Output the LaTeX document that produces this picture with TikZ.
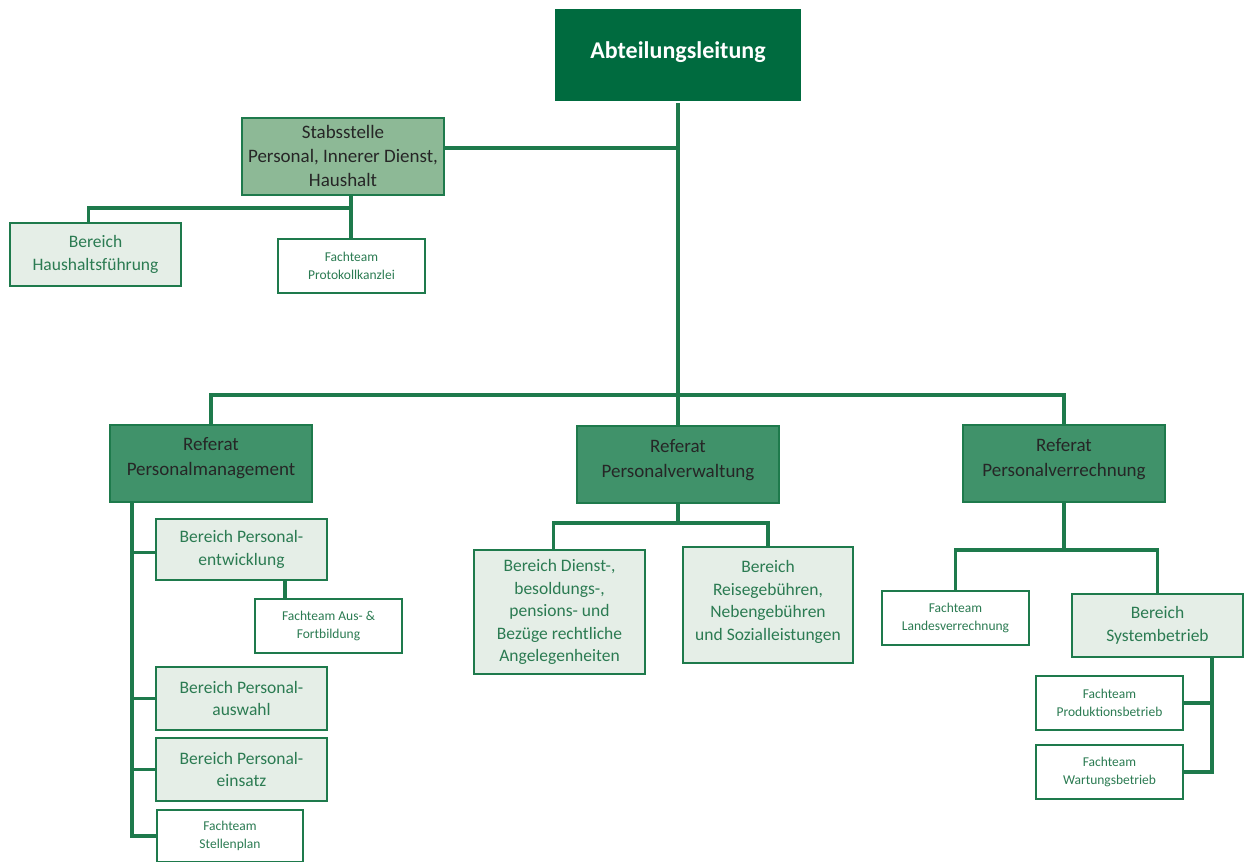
\documentclass[tikz,border=0pt]{standalone}
\usepackage{fontspec}
\setmainfont{Carlito}
\usetikzlibrary{positioning}
\definecolor{leitgreen}{HTML}{006B3F}
\definecolor{stabgreen}{HTML}{8DB996}
\definecolor{refgreen}{HTML}{40926A}
\definecolor{linegreen}{HTML}{1E7A4C}
\definecolor{textgreen}{HTML}{2B7B52}
\definecolor{bergreen}{HTML}{E5EEE7}
\begin{document}
\begin{tikzpicture}[x=1pt,y=-1pt,
box/.style={rectangle,draw=linegreen,line width=2pt,inner sep=0pt,align=center},
leitung/.style={box,fill=leitgreen,draw=white,text=white,font=\fontsize{24}{29}\selectfont\bfseries,
minimum width=248pt,minimum height=94pt},
stabs/.style={box,fill=stabgreen,text=black!85,font=\fontsize{19}{24}\selectfont,
minimum width=202pt,minimum height=77pt},
referat/.style={box,fill=refgreen,text=black!85,font=\fontsize{19}{25}\selectfont,
minimum width=202pt,minimum height=77pt},
bereich/.style={box,fill=bergreen,text=textgreen,font=\fontsize{17.5}{22.5}\selectfont,
minimum width=171pt,minimum height=63pt},
fachteam/.style={box,fill=white,text=textgreen,font=\fontsize{13.5}{18}\selectfont,
minimum width=147pt,minimum height=54pt},
conn/.style={draw=linegreen,line width=3.2pt}]
\useasboundingbox (0,0) rectangle (1245,862);
\node[leitung] (leit) at (678,55) {Abteilungsleitung\\[-20pt]};
\node[stabs] (stab) at (343,156) {Stabsstelle\\Personal, Innerer Dienst,\\Haushalt};
\node[bereich] (haus) at (95.5,254.5) {Bereich\\Haushaltsführung};
\node[fachteam] (prot) at (351.5,266) {Fachteam\\Protokollkanzlei};
% Referate
\node[referat] (refpm) at (211,463) {Referat\\Personalmanagement\\[-12pt]};
\node[referat] (refpv) at (678,464.5) {Referat\\Personalverwaltung\\[-12pt]};
\node[referat] (refpr) at (1064,463.5) {Referat\\Personalverrechnung\\[-12pt]};
% Personalmanagement
\node[bereich,minimum height=61pt] (entw) at (241.5,549.5) {Bereich Personal-\\entwicklung};
\node[fachteam] (ausb) at (328.5,626) {Fachteam Aus- \&\\Fortbildung};
\node[bereich] (ausw) at (241.5,698.5) {Bereich Personal-\\auswahl};
\node[bereich] (eins) at (241.5,769.5) {Bereich Personal-\\einsatz};
\node[fachteam,minimum width=146pt,minimum height=52pt] (stel) at (230,836) {Fachteam\\Stellenplan};
% Personalverwaltung
\node[bereich,minimum height=124pt] (dien) at (559.5,612) {Bereich Dienst-,\\besoldungs-,\\pensions- und\\Bezüge rechtliche\\Angelegenheiten};
\node[bereich,minimum width=170pt,minimum height=116pt] (reis) at (768,605) {Bereich\\Reisegebühren,\\Nebengebühren\\und Sozialleistungen\\[-13.5pt]};
% Personalverrechnung
\node[fachteam] (land) at (955.5,618) {Fachteam\\Landesverrechnung};
\node[bereich] (syst) at (1157.5,625.5) {Bereich\\Systembetrieb};
\node[fachteam] (prod) at (1109.5,703) {Fachteam\\Produktionsbetrieb};
\node[fachteam] (wart) at (1109.5,772) {Fachteam\\Wartungsbetrieb};
% connectors
\coordinate (bus) at (678,395);
\coordinate (s1) at (351,208);
\coordinate (pm) at (132,501);
\coordinate (e1) at (285,0);
\coordinate (pvbus) at (678,523);
\coordinate (prbus) at (1064,550);
\coordinate (sy) at (1212,657);
\draw[conn] (leit.south) -- (refpv.north);
\draw[conn] (refpm.north) |- (bus) -| (refpr.north);
\draw[conn] ([yshift=8pt]stab.east) -- ([yshift=8pt]stab.east -| leit.south);
\draw[conn] (stab.south -| s1) -- (prot.north -| s1);
\draw[conn] (s1) -| ([xshift=-7pt]haus.north);
\draw[conn] (refpm.south -| pm) |- (stel.west);
\draw[conn] ([yshift=-3pt]entw.west) -- ([yshift=-3pt]entw.west -| pm);
\draw[conn] (ausw.west) -- (ausw.west -| pm);
\draw[conn] (eins.west) -- (eins.west -| pm);
\draw[conn] (entw.south -| e1) -- (ausb.north -| e1);
\draw[conn] (refpv.south) -- (pvbus);
\draw[conn] ([xshift=-6pt]dien.north) |- (pvbus) -| (reis.north);
\draw[conn] (refpr.south) -- (prbus);
\draw[conn] (land.north) |- (prbus) -| (syst.north);
\draw[conn] (syst.south -| sy) |- (wart.east);
\draw[conn] (prod.east) -- (prod.east -| sy);
\end{tikzpicture}
\end{document}
